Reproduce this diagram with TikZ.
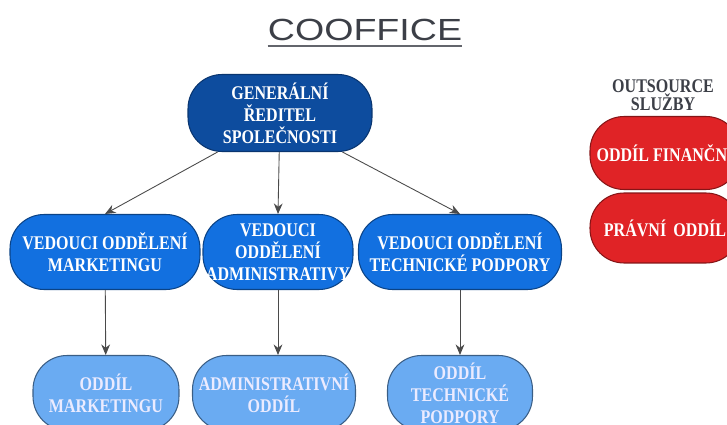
\documentclass[tikz,border=0pt]{standalone}
\usepackage{fontspec}
\setmainfont{Liberation Serif}
\newfontfamily\boxfont[FakeStretch=0.83]{Liberation Serif}
\newfontfamily\logofont[FakeStretch=1.23]{Liberation Sans}
\usetikzlibrary{arrows.meta,positioning}
\definecolor{gendark}{HTML}{0D4C9E}
\definecolor{headblue}{HTML}{1270E0}
\definecolor{deptblue}{HTML}{6AABF2}
\definecolor{outred}{HTML}{E02326}
\definecolor{logogray}{HTML}{3C3F47}
\definecolor{linkgray}{HTML}{4A4A4A}
\tikzset{unit/.style={rectangle, rounded corners=0.68cm, line width=0.6pt, align=center,
  inner sep=1pt, font=\boxfont\bfseries\fontsize{11}{12.5}\selectfont},
  chief/.style={unit, fill=gendark, draw=gendark!70!black, text=white},
  head/.style={unit, fill=headblue, draw=headblue!60!black, text=white},
  dept/.style={unit, fill=deptblue, draw=deptblue!55!black, text=white!92!blue},
  extern/.style={unit, fill=outred, draw=outred!60!black, text=white},
  link/.style={draw=linkgray, line width=0.5pt, -{Stealth[length=6pt,width=5pt]}}}

\begin{document}
\begin{tikzpicture}[x=0.02cm, y=-0.02cm]
        \useasboundingbox (0,0) rectangle (727,425);
        \clip (0,0) rectangle (727,425);

        \node[inner sep=0pt, text=logogray, font=\logofont\fontsize{17.4}{20}\selectfont] (title) at (365,30) {COOFFICE};
        \draw[logogray!80, line width=1.2pt] ([yshift=-3pt]title.south west) -- ([yshift=-3pt]title.south east);

        \node[chief, minimum width=3.68cm, minimum height=1.54cm] (gen) at (280,113) {GENERÁLNÍ\\ ŘEDITEL\\ SPOLEČNOSTI};

        \node[head, minimum width=3.8cm, minimum height=1.5cm] (hmkt) at (105,252) {VEDOUCI ODDĚLENÍ\\ MARKETINGU};
        \node[head, minimum width=3.0cm, minimum height=1.5cm] (hadm) at (278,252) {VEDOUCI\\ ODDĚLENÍ\\ ADMINISTRATIVY};
        \node[head, minimum width=4.06cm, minimum height=1.5cm] (htech) at (460,252) {VEDOUCI ODDĚLENÍ\\ TECHNICKÉ PODPORY};

        \node[dept, minimum width=2.92cm, minimum height=1.5cm] (dmkt) at (106,393) {ODDÍL\\ MARKETINGU};
        \node[dept, minimum width=3.26cm, minimum height=1.5cm] (dadm) at (274,393) {ADMINISTRATIVNÍ\\ ODDÍL};
        \node[dept, minimum width=2.9cm, minimum height=1.5cm] (dtech) at (460,393) {ODDÍL\\ TECHNICKÉ\\ PODPORY};

        \node[font=\boxfont\bfseries\fontsize{11}{10.5}\selectfont, text=logogray, align=center] (out) at (663,95) {OUTSOURCE\\ SLUŽBY};
        \node[extern, minimum width=3.0cm, minimum height=1.46cm] (fin) at (665,153) {ODDÍL FINANČNÍ};
        \node[extern, minimum width=3.0cm, minimum height=1.4cm] (law) at (665,228) {PRÁVNÍ \,ODDÍL};

        \draw (gen.-148) edge[link] (hmkt.north)
              (gen) edge[link] (hadm.north)
              (gen.-32) edge[link] (htech.north)
              (hmkt) edge[link] (dmkt)
              (hadm.south) edge[link] (hadm.south |- dadm.north)
              (htech) edge[link] (dtech)
              ;
\end{tikzpicture}
\end{document}
